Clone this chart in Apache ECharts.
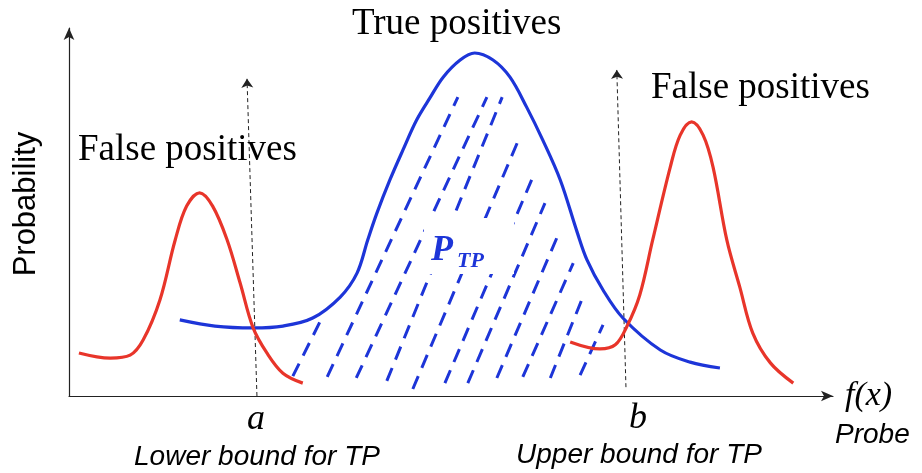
<!DOCTYPE html>
<html>
<head>
<meta charset="utf-8">
<title>True positives / False positives</title>
<script src="https://cdn.jsdelivr.net/npm/echarts@6/dist/echarts.min.js"></script>
<style>
    html, body { margin: 0; padding: 0; background: #fff; }
    #chart { width: 922px; height: 473px; }
</style>
</head>
<body>
<div id="chart"></div>
<script>
// curves: [f(x), probability]
var blueCurve = [
    [1.45, 0.207], [1.91, 0.190], [2.41, 0.185], [2.80, 0.190], [3.19, 0.212],
    [3.55, 0.269], [3.77, 0.334], [3.91, 0.424], [4.03, 0.497], [4.20, 0.587],
    [4.37, 0.668], [4.55, 0.750], [4.73, 0.812], [4.90, 0.867], [5.12, 0.913],
    [5.31, 0.932], [5.55, 0.913], [5.77, 0.867], [5.99, 0.785], [6.20, 0.696],
    [6.43, 0.587], [6.65, 0.446], [6.78, 0.370], [6.99, 0.288], [7.25, 0.212],
    [7.74, 0.125], [8.13, 0.092], [8.52, 0.076]
];
var redLeft = [
    [0.13, 0.117], [0.54, 0.103], [0.80, 0.111], [0.97, 0.152], [1.19, 0.261],
    [1.39, 0.424], [1.54, 0.516], [1.71, 0.552], [1.88, 0.516], [2.07, 0.424],
    [2.24, 0.307], [2.41, 0.185], [2.59, 0.117], [2.80, 0.062], [3.06, 0.035]
];
var redRight = [
    [6.56, 0.147], [6.95, 0.128], [7.15, 0.139], [7.30, 0.188], [7.47, 0.274],
    [7.64, 0.424], [7.87, 0.622], [8.00, 0.709], [8.15, 0.745], [8.30, 0.709],
    [8.43, 0.622], [8.61, 0.424], [8.78, 0.296], [8.95, 0.171], [9.18, 0.090],
    [9.48, 0.035]
];
// hatch lines under the blue curve (bottom end, top end)
var hatchBottom = [
    [2.93, 0.054], [3.38, 0.052], [3.76, 0.049], [4.16, 0.041], [4.50, 0.019], [4.92, 0.035],
    [5.22, 0.035], [5.60, 0.049], [5.94, 0.052], [6.30, 0.049], [6.69, 0.057]
];
var hatchTop = [
    [3.31, 0.212], [5.09, 0.812], [5.47, 0.812], [5.67, 0.812], [5.90, 0.704], [6.10, 0.609],
    [6.23, 0.524], [6.39, 0.432], [6.60, 0.361], [6.71, 0.261], [6.99, 0.193]
];
// bounds a and b (dotted arrows)
var boundA = [[2.46, 0.0], [2.33, 0.862]];
var boundB = [[7.29, 0.024], [7.17, 0.886]];

var serif = '"Liberation Serif", "DejaVu Serif", serif';
var sans = '"Liberation Sans", Arial, sans-serif';
var blue = '#1d35d8';
var red = '#e8352a';

var hatchData = [];
hatchBottom.forEach(function (p, i) {
    hatchData.push({ coords: [p, hatchTop[i]] });
});

var myChart = echarts.init(document.getElementById('chart'));

// y is the top of the text box
var txt = function (text, x, y, font, color, align) {
    return {
        type: 'text', x: x, y: y, z: 100,
        style: {
            text: text, font: font, fill: color || '#000',
            align: align || 'left', textAlign: align || 'left',
            verticalAlign: 'top', textVerticalAlign: 'top'
        }
    };
};

var options = {
    animation: false,
    grid: { left: 69, right: 89, top: 28, bottom: 77 },
    xAxis: {
        type: 'value', min: 0, max: 10,
        axisLine: { show: true, symbol: ['none', 'arrow'], symbolSize: [8, 12], lineStyle: { color: '#222', width: 1.2 } },
        axisTick: { show: false }, axisLabel: { show: false }, splitLine: { show: false }
    },
    yAxis: {
        type: 'value', min: 0, max: 1,
        axisLine: { show: true, symbol: ['none', 'arrow'], symbolSize: [8, 12], lineStyle: { color: '#222', width: 1.2 } },
        axisTick: { show: false }, axisLabel: { show: false }, splitLine: { show: false }
    },
    series: [
        {
            name: 'hatch', type: 'lines', coordinateSystem: 'cartesian2d',
            data: hatchData, symbol: 'none',
            lineStyle: { color: blue, width: 3, type: [14, 9], opacity: 1 },
            z: 1
        },
        {
            name: 'bounds', type: 'lines', coordinateSystem: 'cartesian2d',
            data: [{ coords: boundA }, { coords: boundB }],
            symbol: ['none', 'arrow'], symbolSize: 9,
            lineStyle: { color: '#222', width: 1, type: [4, 3], opacity: 1 },
            z: 3
        },
        {
            name: 'True positives', type: 'line', data: blueCurve,
            smooth: 0.35, showSymbol: false, symbol: 'none',
            lineStyle: { color: blue, width: 3.2 }, z: 4
        },
        {
            name: 'False positives left', type: 'line', data: redLeft,
            smooth: 0.35, showSymbol: false, symbol: 'none',
            lineStyle: { color: red, width: 3.2 }, z: 4
        },
        {
            name: 'False positives right', type: 'line', data: redRight,
            smooth: 0.35, showSymbol: false, symbol: 'none',
            lineStyle: { color: red, width: 3.2 }, z: 5
        }
    ],
    graphic: [
        //白底遮住 P_TP 下的虚线
        { type: 'rect', z: 90, shape: { x: 424, y: 218, width: 90, height: 56 }, style: { fill: '#fff' } },
        txt('P', 431, 233, 'italic bold 36px ' + serif, blue),
        txt('TP', 457, 250, 'italic bold 22px ' + serif, blue),
        txt('True positives', 352, 6, '37px ' + serif),
        txt('False positives', 78, 132, '37px ' + serif),
        txt('False positives', 651, 70, '37px ' + serif),
        txt('a', 256, 402, 'italic 36px ' + serif, '#000', 'center'),
        txt('b', 638, 401, 'italic 36px ' + serif, '#000', 'center'),
        txt('f(x)', 845, 379, 'italic 34px ' + serif),
        txt('Probe', 835, 421, 'italic 28px ' + sans),
        txt('Lower bound for TP', 257, 443, 'italic 28px ' + sans, '#000', 'center'),
        txt('Upper bound for TP', 639, 441, 'italic 28px ' + sans, '#000', 'center'),
        {
            type: 'text', x: 11, y: 204, z: 100, rotation: Math.PI / 2,
            style: {
                text: 'Probability', font: '31px ' + sans, fill: '#000',
                align: 'center', textAlign: 'center',
                verticalAlign: 'top', textVerticalAlign: 'top'
            }
        }
    ]
};
myChart.setOption(options);
</script>
</body>
</html>
